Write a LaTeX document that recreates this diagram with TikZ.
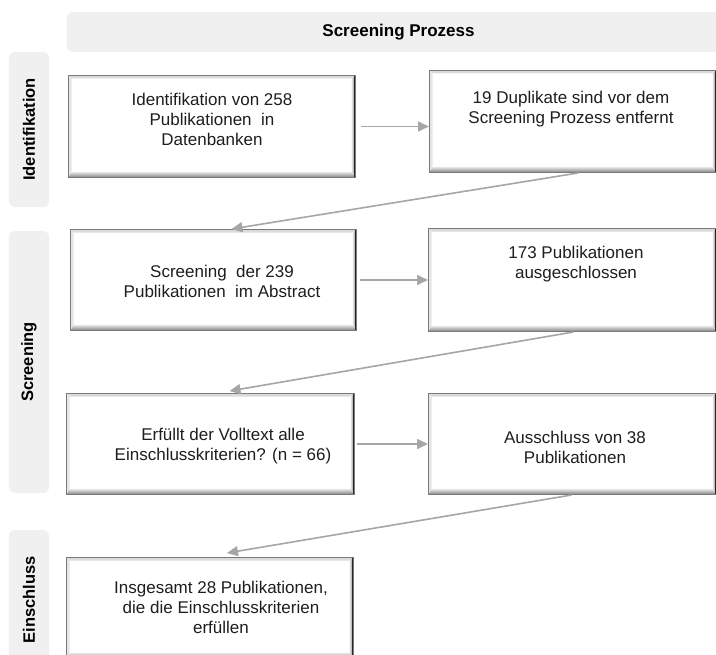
\documentclass[tikz,border=0pt]{standalone}
\usepackage{fontspec}
\setmainfont{Liberation Sans}
\usetikzlibrary{arrows.meta}
\definecolor{barfill}{HTML}{F0F0F0}
\definecolor{arrowgray}{HTML}{A6A6A6}
\definecolor{framegray}{HTML}{7A7A7A}
\definecolor{txt}{HTML}{1E1E1E}
\tikzset{
  flowbox/.style={fill=white, draw=framegray, line width=1bp, anchor=north west, inner sep=0pt,
    path picture={
      \coordinate (pSW) at (path picture bounding box.south west);
      \coordinate (pSE) at (path picture bounding box.south east);
      \coordinate (pNE) at (path picture bounding box.north east);
      \coordinate (pNW) at (path picture bounding box.north west);
      \fill[black!14] (pNW) -- (pNE) -- ([xshift=-4bp,yshift=-3bp]pNE) -- ([xshift=3bp,yshift=-3bp]pNW) -- cycle;
      \fill[black!10] (pNW) -- ([xshift=3bp,yshift=-3bp]pNW) -- ([xshift=3bp,yshift=6bp]pSW) -- (pSW) -- cycle;
      \fill[top color=black!6, bottom color=black!50] (pSW) -- (pSE) -- ([xshift=-4bp,yshift=6bp]pSE) -- ([xshift=3bp,yshift=6bp]pSW) -- cycle;
      \fill[left color=black!8, right color=black!55] (pSE) -- (pNE) -- ([xshift=-4bp,yshift=-3bp]pNE) -- ([xshift=-4bp,yshift=6bp]pSE) -- cycle;
      \draw[black!85, line width=3bp] (pNE) -- (pSE);
    }},
  boxtext/.style={align=center, text=txt, inner sep=0pt, font=\fontsize{17bp}{20bp}\selectfont},
  sidebar/.style={fill=barfill, rounded corners=6bp, rotate=90, minimum height=40bp, inner sep=0pt,
    font=\bfseries\fontsize{16.5bp}{19bp}\selectfont, text=black},
  topbar/.style={fill=barfill, rounded corners=6bp, minimum height=40bp, inner sep=0pt,
    font=\bfseries\fontsize{17bp}{20bp}\selectfont, text=black},
  flowarrow/.style={draw=arrowgray, line width=1.6bp, -{Triangle[length=11bp,width=10bp]}},
}
\begin{document}
\begin{tikzpicture}[x=1bp, y=-1bp]
\useasboundingbox (0,0) rectangle (716,655);
\clip (0,0) rectangle (716,655);
\fill[white] (0,0) rectangle (716,655);

% header and phase bars
\node[topbar, minimum width=663bp] (title) at (398.5,32) {Screening Prozess};
\node[sidebar, minimum width=155bp] (s1) at (29,129.5) {Identifikation};
\node[sidebar, minimum width=262bp] (s2) at (29,362) {Screening};
\node[sidebar, minimum width=140bp] (s3) at (29,600) {Einschluss};

% boxes
\node[flowbox, minimum width=287bp, minimum height=102bp] (b1) at (68,75) {};
\node[flowbox, minimum width=287bp, minimum height=102bp] (b2) at (429,70) {};
\node[flowbox, minimum width=286bp, minimum height=101bp] (b3) at (70,229) {};
\node[flowbox, minimum width=288bp, minimum height=103bp] (b4) at (428,228) {};
\node[flowbox, minimum width=288bp, minimum height=101bp] (b5) at (66,393) {};
\node[flowbox, minimum width=288bp, minimum height=101bp] (b6) at (428,393) {};
\node[flowbox, minimum width=287bp, minimum height=101bp] (b7) at (66,557) {};

% texts
\node[boxtext] (t1) at (212,119) {Identifikation von 258\\Publikationen\ \ in\\Datenbanken};
\node[boxtext] (t2) at (571,109) {19 Duplikate sind vor dem\\Screening Prozess entfernt};
\node[boxtext] (t3) at (222,281) {Screening\ \ der 239\\Publikationen\ \ im Abstract};
\node[boxtext] (t4) at (576,264) {173 Publikationen\\ausgeschlossen};
\node[boxtext] (t5) at (223,446) {Erfüllt der Volltext alle\\Einschlusskriterien? (n = 66)};
\node[boxtext] (t6) at (575,447) {Ausschluss von 38\\Publikationen};
\node[boxtext] (t7) at (221,607) {Insgesamt 28 Publikationen,\\die die Einschlusskriterien\\erfüllen};

% connectors
\draw[flowarrow] ([xshift=5bp]b1.east) -- (b1.east -| b2.west);
\draw[flowarrow] ([xshift=5bp]b2.south) -- ([xshift=18bp]b3.north);
\draw[flowarrow] ([xshift=3bp]b3.east) -- (b3.east -| b4.west);
\draw[flowarrow] ([xshift=1bp]b4.south) -- ([xshift=19bp,yshift=2bp]b5.north);
\draw[flowarrow] ([xshift=2bp]b5.east) -- (b5.east -| b6.west);
\draw[flowarrow] ([xshift=-1bp]b6.south) -- ([xshift=17bp,yshift=4bp]b7.north);
\end{tikzpicture}
\end{document}
